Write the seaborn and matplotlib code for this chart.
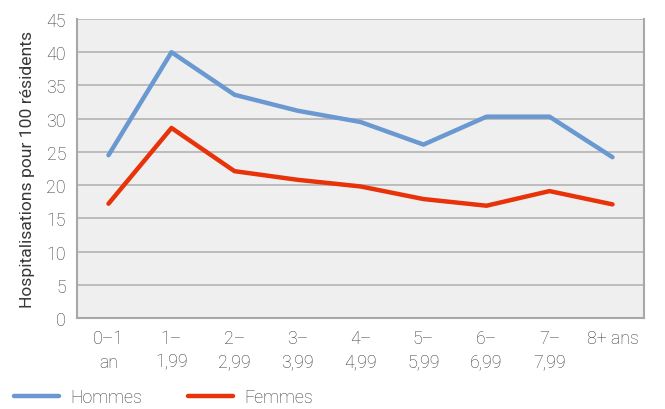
import matplotlib
matplotlib.use("Agg")
import matplotlib.pyplot as plt
import seaborn as sns
import pandas as pd
import numpy as np
from matplotlib.lines import Line2D

categories = ["0–1\nan", "1–\n1,99", "2–\n2,99", "3–\n3,99", "4–\n4,99",
              "5–\n5,99", "6–\n6,99", "7–\n7,99", "8+ ans"]
hommes = [24.5, 40.0, 33.6, 31.2, 29.5, 26.1, 30.3, 30.3, 24.2]
femmes = [17.2, 28.6, 22.1, 20.8, 19.8, 17.9, 16.9, 19.1, 17.1]
y_ticks = [0, 5, 10, 15, 20, 25, 30, 35, 40, 45]
y_label = "Hospitalisations pour 100 résidents"

sns.set_theme(style="white")
plt.rcParams['font.family'] = ['Roboto', 'DejaVu Sans']
plt.rcParams['font.weight'] = 'light'

FS = 12.8
TXT = "#383838"

df = pd.DataFrame({
    "x": list(range(len(categories))) * 2,
    "val": hommes + femmes,
    "Série": ["Hommes"] * len(hommes) + ["Femmes"] * len(femmes),
})

fig = plt.figure(figsize=(6.65, 4.10), dpi=100)
ax = fig.add_axes([77/665, 91/410, (644-77)/665, (319-20)/410])
ax.set_facecolor("#efefef")

sns.lineplot(data=df, x="x", y="val", hue="Série",
             palette={"Hommes": "#6a98d0", "Femmes": "#e8320a"},
             linewidth=3.2, ax=ax, legend=False)

ax.set_xlim(-0.5, len(categories) - 0.5)
ax.set_ylim(0, 45)
ax.set_yticks(y_ticks)
ax.yaxis.grid(True, color="#b4b4b4", linewidth=1.2)
ax.set_axisbelow(True)

ax.set_xticks(np.arange(len(categories)))
ax.set_xticklabels(categories, fontsize=FS, color=TXT, linespacing=1.4)
ax.set_xticks(np.arange(len(categories) + 1) - 0.5, minor=True)
ax.tick_params(axis="x", which="major", length=0, pad=8)
ax.tick_params(axis="x", which="minor", length=4, color="#a0a0a0", width=1)
ax.tick_params(axis="y", length=4, color="#a0a0a0", width=1, labelsize=FS,
               labelcolor=TXT, pad=4)

ax.set_xlabel("")
ax.set_ylabel(y_label, fontsize=12.6, color=TXT, labelpad=8)

for side in ["left", "bottom", "right"]:
    ax.spines[side].set_visible(True)
    ax.spines[side].set_color("#a8a8a8")
    ax.spines[side].set_linewidth(1.5)
ax.spines["top"].set_visible(False)

handles = [Line2D([], [], color="#6a98d0", lw=3.2),
           Line2D([], [], color="#e8320a", lw=3.2)]
fig.legend(handles, ["Hommes", "Femmes"], loc="center left",
           bbox_to_anchor=(0/665, 1 - 398/410), ncol=2, frameon=False,
           fontsize=FS, handlelength=2.5, columnspacing=2.6,
           handletextpad=0.65, labelcolor=TXT, borderpad=0.3)

fig.savefig("out.png", dpi=100)
